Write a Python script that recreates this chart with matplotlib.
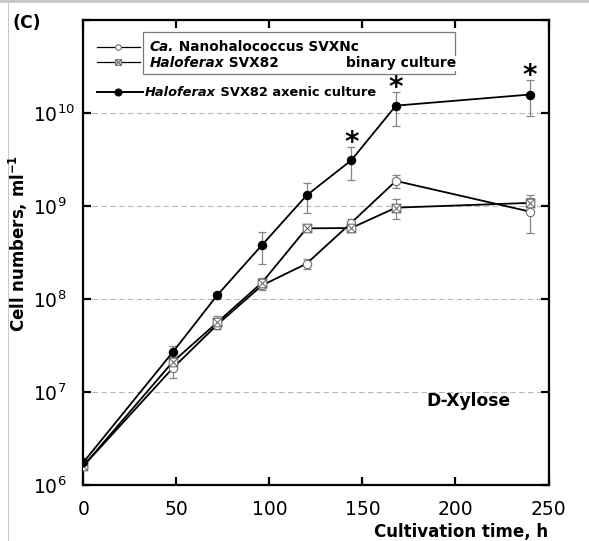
import matplotlib
matplotlib.use('Agg')
import matplotlib.pyplot as plt
from matplotlib.path import Path
from matplotlib.patches import Rectangle
from matplotlib.lines import Line2D
from matplotlib.ticker import NullLocator

# ---------------- data ----------------
time_h = [0, 48, 72, 96, 120, 144, 168, 240]
nano_binary = [1.6e6, 1.8e7, 5.3e7, 1.4e8, 2.4e8, 6.6e8, 1.86e9, 8.7e8]
nano_binary_sd = [1e5, 3.7e6, 5e6, 1.5e7, 3e7, 7e7, 2.9e8, 3.6e8]
halo_binary = [1.6e6, 2.1e7, 5.6e7, 1.5e8, 5.75e8, 5.8e8, 9.6e8, 1.08e9]
halo_binary_sd = [1e5, 3e6, 9e6, 2e7, 3e7, 5e7, 2.4e8, 2.3e8]
halo_axenic = [1.75e6, 2.67e7, 1.1e8, 3.8e8, 1.3e9, 3.1e9, 1.2e10, 1.58e10]
halo_axenic_sd = [1e5, 4.8e6, 1.0e7, 1.4e8, 4.6e8, 1.2e9, 4.8e9, 6.6e9]
star_times = [144, 168, 240]

x_ticks = [0, 50, 100, 150, 200, 250]
y_ticks = [1e6, 1e7, 1e8, 1e9, 1e10, 1e11]
y_tick_labels = [r'$\mathregular{10^{6}}$', r'$\mathregular{10^{7}}$', r'$\mathregular{10^{8}}$',
                 r'$\mathregular{10^{9}}$', r'$\mathregular{10^{10}}$', '']

# legend labels: (italic part, upright part)
label_nano = ('Ca.', ' Nanohalococcus SVXNc')
label_halo = ('Haloferax', ' SVX82')
label_axenic = ('Haloferax', ' SVX82 axenic culture')

# ---------------- style ----------------
plt.rcParams['font.family'] = ['DejaVu Sans']
plt.rcParams['mathtext.fontset'] = 'dejavusans'

W, H = 589, 541
fig = plt.figure(figsize=(W / 100, H / 100), dpi=100)
ax = fig.add_axes([83.3 / W, 56 / H, 465.2 / W, 465 / H])

GRAY_M = '#6e6e6e'
GRAY_E = '#858585'

# crossed square marker
crossed_sq = Path(
    [(-1, -1), (1, -1), (1, 1), (-1, 1), (-1, -1), (-1, -1), (1, 1), (-1, 1), (1, -1)],
    [Path.MOVETO, Path.LINETO, Path.LINETO, Path.LINETO, Path.CLOSEPOLY,
     Path.MOVETO, Path.LINETO, Path.MOVETO, Path.LINETO])

# error bars
for vals, sd in [(nano_binary, nano_binary_sd), (halo_binary, halo_binary_sd),
                 (halo_axenic, halo_axenic_sd)]:
    ax.errorbar(time_h, vals, yerr=sd, fmt='none', ecolor=GRAY_E, elinewidth=0.9,
                capsize=2.6, capthick=0.9, zorder=2)

ax.plot(time_h, nano_binary, color='black', lw=1.3, marker='o', ms=6, mfc='white',
        mec=GRAY_M, mew=0.8, zorder=3)
ax.plot(time_h, halo_binary, color='black', lw=1.3, marker=crossed_sq, ms=6.2,
        mfc='white', mec=GRAY_M, mew=0.8, zorder=4)
ax.plot(time_h, halo_axenic, color='black', lw=1.3, marker='o', ms=5.8, mfc='black',
        mec='black', zorder=5)

# asterisks
for st in star_times:
    i = time_h.index(st)
    top = halo_axenic[i] + halo_axenic_sd[i]
    ax.annotate('*', xy=(st, top), xytext=(0, -2.5), textcoords='offset points',
                ha='center', va='baseline', fontsize=20, fontweight='bold', zorder=6)

# axes
ax.set_yscale('log')
ax.set_xlim(0, 250)
ax.set_ylim(1e6, 1e11)
ax.set_xticks(x_ticks)
ax.set_xticklabels([str(v) for v in x_ticks])
ax.set_yticks(y_ticks)
ax.set_yticklabels(y_tick_labels)
ax.yaxis.set_minor_locator(NullLocator())
ax.tick_params(axis='both', which='major', direction='in', length=5.5, width=1.6,
               top=True, right=True, labelsize=13.5, colors='black')
ax.tick_params(axis='x', pad=10.5)
ax.tick_params(axis='y', pad=36)
for lbl in ax.get_yticklabels():
    lbl.set_horizontalalignment('left')
for s in ax.spines.values():
    s.set_linewidth(1.6)
ax.yaxis.grid(True, color='#b8b8b8', lw=0.8, ls=(0, (5, 3)), zorder=0)
ax.set_axisbelow(True)


# manual legend (axes fraction coords from pixel layout)
def axx(px):
    return (px - 83.3) / 465.2


def axy(py):
    return (485 - py) / 465


ax.add_patch(Rectangle((axx(143.3), axy(73.5)), axx(455) - axx(143.3), axy(32) - axy(73.5),
                       transform=ax.transAxes, fill=False, ec='#7a7a7a', lw=0.9, zorder=7))
for py, mk, ms, mfc, mec, lw, x2 in [
        (46.7, 'o', 4.0, 'white', GRAY_M, 0.9, 140),
        (62.3, crossed_sq, 4.0, 'white', GRAY_M, 0.9, 140),
        (91.8, 'o', 5.0, 'black', 'black', 1.4, 143)]:
    ax.add_line(Line2D([axx(96.7), axx(x2)], [axy(py), axy(py)], transform=ax.transAxes,
                       color='black', lw=lw, zorder=7))
    ax.add_line(Line2D([axx(118)], [axy(py)], transform=ax.transAxes, marker=mk, ms=ms,
                       mfc=mfc, mec=mec, mew=0.8, ls='none', zorder=8))

LEG_FS = 9.6


def mixed_label(px, py, parts, fs=LEG_FS):
    t1 = ax.text(axx(px), axy(py), parts[0], transform=ax.transAxes, fontsize=fs,
                 fontweight='bold', fontstyle='italic', ha='left', va='baseline', zorder=8)
    ax.annotate(parts[1], xy=(1, 0), xycoords=t1, ha='left', va='bottom',
                fontsize=fs, fontweight='bold', zorder=8)


mixed_label(150, 51.0, label_nano, 9.8)
mixed_label(150, 66.7, label_halo, 9.8)
mixed_label(145, 95.8, label_axenic, 9.4)

ax.text(axx(456.7), axy(67.5), 'binary culture', transform=ax.transAxes, fontsize=10,
        fontweight='bold', ha='right', va='baseline', zorder=9,
        bbox=dict(boxstyle='square,pad=0.05', fc='white', ec='none'))

ax.text(axx(511), axy(400.7), 'D-Xylose', transform=ax.transAxes, fontsize=12.3,
        fontweight='bold', ha='right', va='center')

fig.text(548 / W, 1 - 536.5 / H, 'Cultivation time, h', ha='right', va='baseline',
         fontsize=12, fontweight='bold')
fig.text(18 / W, 1 - 243 / H, r'Cell numbers, ml$^{\mathbf{-1}}$', rotation=90,
         ha='center', va='center', fontsize=12, fontweight='bold')
fig.text(13 / W, 1 - 23 / H, '(C)', ha='left', va='center', fontsize=12.5,
         fontweight='bold')

# screenshot border
fig.patches.append(Rectangle((0, 1 - 3 / H), 1, 3 / H, transform=fig.transFigure,
                             fc='#c8c8c8', ec='none', zorder=0))
fig.patches.append(Rectangle((8 / W, 0), 1 / W, 1, transform=fig.transFigure,
                             fc='#c8c8c8', ec='none', zorder=0))

fig.savefig('out.png', dpi=100)
